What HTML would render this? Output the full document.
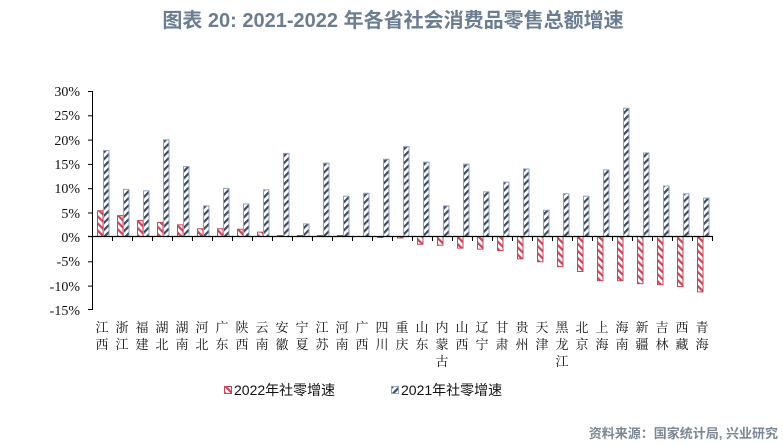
<!DOCTYPE html>
<html><head><meta charset="utf-8"><style>
body{margin:0;background:#fff;width:783px;height:445px;overflow:hidden}
svg{display:block}
.t{font-family:"Liberation Sans","Noto Sans CJK SC",sans-serif}
.s{font-family:"Liberation Serif","Noto Serif CJK SC",serif;font-size:13px;fill:#111}
.y{font-family:"Liberation Serif",serif;font-size:14px;fill:#111}
</style></head><body>
<svg id="c" width="783" height="445" xmlns="http://www.w3.org/2000/svg">
<defs>
<pattern id="pr" patternUnits="userSpaceOnUse" width="5" height="5" patternTransform="rotate(-45)"><rect width="5" height="5" fill="#fff"/><rect width="2.2" height="5" fill="#c8465c"/></pattern>
<pattern id="pb" patternUnits="userSpaceOnUse" width="5" height="5" patternTransform="rotate(45)"><rect width="5" height="5" fill="#fff"/><rect width="2.2" height="5" fill="#3b4a63"/></pattern>
</defs>
<text x="393" y="27" text-anchor="middle" class="t" font-size="20" font-weight="bold" fill="#6b7d91">图表 20: 2021-2022 年各省社会消费品零售总额增速</text>
<g class="y" text-anchor="end">
<text x="80" y="96">30%</text><text x="80" y="120">25%</text><text x="80" y="145">20%</text><text x="80" y="169">15%</text><text x="80" y="193">10%</text><text x="80" y="218">5%</text><text x="80" y="242">0%</text><text x="80" y="266">-5%</text><text x="80" y="291">-10%</text><text x="80" y="315">-15%</text>
</g>
<g stroke="#000" stroke-width="1">
<line x1="92.5" y1="91" x2="92.5" y2="310"/>
<line x1="88" y1="91.5" x2="92" y2="91.5"/><line x1="88" y1="115.8" x2="92" y2="115.8"/><line x1="88" y1="140.1" x2="92" y2="140.1"/><line x1="88" y1="164.4" x2="92" y2="164.4"/><line x1="88" y1="188.7" x2="92" y2="188.7"/><line x1="88" y1="213" x2="92" y2="213"/><line x1="88" y1="261.8" x2="92" y2="261.8"/><line x1="88" y1="286.1" x2="92" y2="286.1"/><line x1="88" y1="309.5" x2="92" y2="309.5"/>
</g>
<g id="bars"></g>
<line x1="88" y1="236.5" x2="713" y2="236.5" stroke="#000" stroke-width="1.3"/>
<g id="ticks" stroke="#000"></g>
<g class="s" text-anchor="middle">
<text x="102" y="332">江</text><text x="102" y="349">西</text>
<text x="122" y="332">浙</text><text x="122" y="349">江</text>
<text x="142" y="332">福</text><text x="142" y="349">建</text>
<text x="162" y="332">湖</text><text x="162" y="349">北</text>
<text x="182" y="332">湖</text><text x="182" y="349">南</text>
<text x="202" y="332">河</text><text x="202" y="349">北</text>
<text x="222" y="332">广</text><text x="222" y="349">东</text>
<text x="242" y="332">陕</text><text x="242" y="349">西</text>
<text x="262" y="332">云</text><text x="262" y="349">南</text>
<text x="282" y="332">安</text><text x="282" y="349">徽</text>
<text x="302" y="332">宁</text><text x="302" y="349">夏</text>
<text x="322" y="332">江</text><text x="322" y="349">苏</text>
<text x="342" y="332">河</text><text x="342" y="349">南</text>
<text x="362" y="332">广</text><text x="362" y="349">西</text>
<text x="382" y="332">四</text><text x="382" y="349">川</text>
<text x="402" y="332">重</text><text x="402" y="349">庆</text>
<text x="422" y="332">山</text><text x="422" y="349">东</text>
<text x="442" y="332">内</text><text x="442" y="349">蒙</text><text x="442" y="366">古</text>
<text x="462" y="332">山</text><text x="462" y="349">西</text>
<text x="482" y="332">辽</text><text x="482" y="349">宁</text>
<text x="502" y="332">甘</text><text x="502" y="349">肃</text>
<text x="522" y="332">贵</text><text x="522" y="349">州</text>
<text x="542" y="332">天</text><text x="542" y="349">津</text>
<text x="562" y="332">黑</text><text x="562" y="349">龙</text><text x="562" y="366">江</text>
<text x="582" y="332">北</text><text x="582" y="349">京</text>
<text x="602" y="332">上</text><text x="602" y="349">海</text>
<text x="622" y="332">海</text><text x="622" y="349">南</text>
<text x="642" y="332">新</text><text x="642" y="349">疆</text>
<text x="662" y="332">吉</text><text x="662" y="349">林</text>
<text x="682" y="332">西</text><text x="682" y="349">藏</text>
<text x="702" y="332">青</text><text x="702" y="349">海</text>
</g>
<rect x="224.5" y="386.5" width="7" height="7" fill="url(#pr)" stroke="#c8465c"/>
<text x="234" y="395" class="t" font-size="14" fill="#111">2022年社零增速</text>
<rect x="391.5" y="386.5" width="7" height="7" fill="url(#pb)" stroke="#8fa3c0"/>
<text x="401" y="395" class="t" font-size="14" fill="#111">2021年社零增速</text>
<text x="778" y="438" text-anchor="end" class="t" font-size="13" font-weight="bold" fill="#7a8794">资料来源：国家统计局, 兴业研究</text>
</svg>
<script>
var d=[[5.3,17.7],[4.3,9.7],[3.3,9.4],[2.9,19.9],[2.4,14.4],[1.6,6.3],[1.6,9.9],[1.5,6.7],[0.9,9.6],[0.1,17.1],[0.1,2.6],[0.1,15.1],[0.1,8.3],[0,8.9],[-0.1,15.9],[-0.3,18.5],[-1.6,15.3],[-1.8,6.3],[-2.4,14.9],[-2.6,9.2],[-2.9,11.2],[-4.6,13.9],[-5.2,5.4],[-6.2,8.8],[-7.2,8.3],[-9.1,13.7],[-9.1,26.4],[-9.7,17.2],[-9.9,10.4],[-10.3,8.8],[-11.4,7.9]];
var ns="http://www.w3.org/2000/svg",g=document.getElementById("bars"),tk=document.getElementById("ticks");
function r(x,v,f,s){var y=236.5-4.86*v,h=Math.abs(4.86*v);if(v<0)y=236.5;if(v===0)return;if(h<1){h=1;y=v>0?235.5:236.5;}var e=document.createElementNS(ns,"rect");e.setAttribute("x",x);e.setAttribute("y",y);e.setAttribute("width",5.5);e.setAttribute("height",h);e.setAttribute("fill",f);e.setAttribute("stroke",s);e.setAttribute("stroke-width",1);g.appendChild(e);}
d.forEach(function(p,i){var l=92+20*i;r(l+5.5,p[0],"url(#pr)","#c8465c");r(l+11.5,p[1],"url(#pb)","#8fa3c0");
var t=document.createElementNS(ns,"line");t.setAttribute("x1",l+20.5);t.setAttribute("x2",l+20.5);t.setAttribute("y1",236.5);t.setAttribute("y2",241);tk.appendChild(t);});
</script>
</body></html>
